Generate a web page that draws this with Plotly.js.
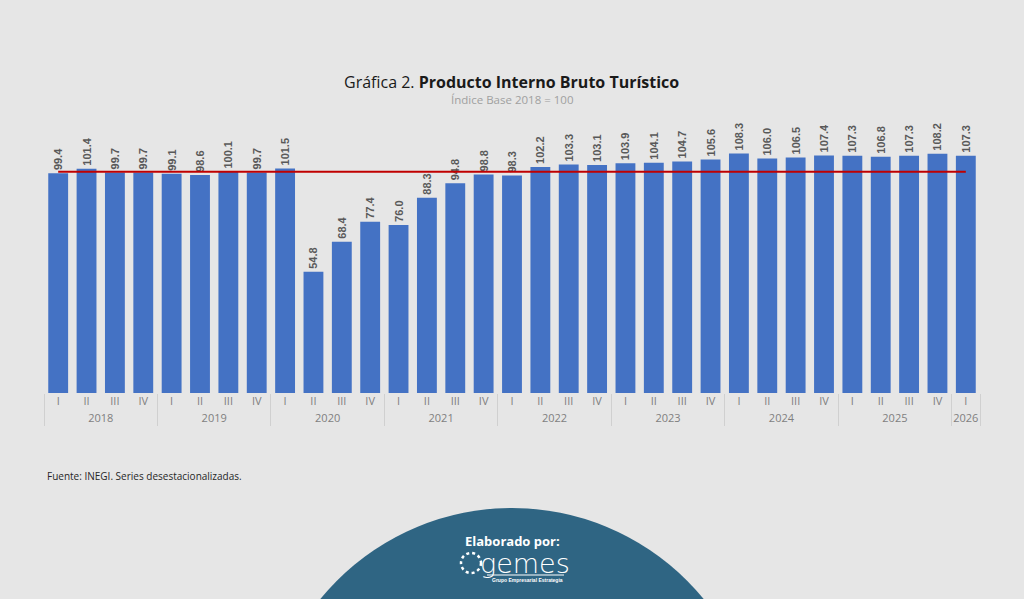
<!DOCTYPE html>
<html>
<head>
<meta charset="utf-8">
<script src="https://cdn.plot.ly/plotly-3.0.1.min.js"></script>
<style>
html,body{margin:0;padding:0;background:#e6e6e6;}
#chart{width:1024px;height:599px;}
</style>
</head>
<body>
<div id="chart"></div>
<script>
var years = ["2018","2018","2018","2018","2019","2019","2019","2019","2020","2020","2020","2020","2021","2021","2021","2021","2022","2022","2022","2022","2023","2023","2023","2023","2024","2024","2024","2024","2025","2025","2025","2025","2026"];
var quarters = ["I","II","III","IV","I","II","III","IV","I","II","III","IV","I","II","III","IV","I","II","III","IV","I","II","III","IV","I","II","III","IV","I","II","III","IV","I"];
var pibValues = [99.4,101.4,99.7,99.7,99.1,98.6,100.1,99.7,101.5,54.8,68.4,77.4,76.0,88.3,94.8,98.8,98.3,102.2,103.3,103.1,103.9,104.1,104.7,105.6,108.3,106.0,106.5,107.4,107.3,106.8,107.3,108.2,107.3];
var baseValue = 100;

var L = 44, R = 44, T = 130, B = 206;
var W = 1024, H = 599;
var pw = W - L - R, ph = H - T - B;
function px(x){ return (x - L) / pw; }
function py(y){ return (H - B - y) / ph; }

var bars = {
  type: "bar",
  x: [years, quarters],
  y: pibValues,
  marker: {color: "#4472c4"},
  text: pibValues.map(function(v){ return v.toFixed(1); }),
  textposition: "outside",
  textangle: -90,
  constraintext: "none",
  cliponaxis: false,
  textfont: {family: "Liberation Sans, Arial, sans-serif", size: 11, color: "#595959", weight: "bold"},
  hoverinfo: "y",
  showlegend: false
};
var baseLine = {
  type: "scatter",
  mode: "lines",
  x: [years, quarters],
  y: pibValues.map(function(){ return baseValue; }),
  line: {color: "#c00000", width: 2},
  hoverinfo: "skip",
  showlegend: false
};

var layout = {
  width: W, height: H,
  margin: {l: L, r: R, t: T, b: B},
  paper_bgcolor: "#e6e6e6",
  plot_bgcolor: "rgba(0,0,0,0)",
  bargap: 0.3,
  font: {family: "Open Sans, Liberation Sans, sans-serif"},
  xaxis: {
    type: "multicategory",
    showgrid: false, zeroline: false,
    showline: false,
    ticks: "",
    tickfont: {family: "Open Sans, sans-serif", size: 11, color: "#7f7f7f"},
    showdividers: true,
    dividercolor: "#d0d0d0",
    dividerwidth: 1
  },
  yaxis: {
    range: [0, ph / 2.212],
    visible: false,
    showgrid: false, zeroline: false
  },
  shapes: [
    {type: "circle", xref: "paper", yref: "paper", layer: "below",
     x0: px(264), x1: px(760), y0: py(1006), y1: py(508),
     fillcolor: "#2f6583", line: {width: 0}},
    {type: "circle", xref: "paper", yref: "paper", layer: "above",
     x0: px(461), x1: px(481), y0: py(573), y1: py(553),
     fillcolor: "rgba(0,0,0,0)", line: {color: "#ffffff", width: 2.5, dash: "dot"}},
    {type: "line", xref: "paper", yref: "paper", layer: "above",
     x0: px(487), x1: px(564), y0: py(575), y1: py(575),
     line: {color: "#ffffff", width: 1.2}}
  ],
  annotations: [
    {xref: "paper", yref: "paper", x: px(511), y: py(82), xanchor: "center", yanchor: "middle",
     showarrow: false, text: "Gráfica 2. <b>Producto Interno Bruto Turístico</b>",
     font: {family: "Open Sans, sans-serif", size: 16, color: "#1a1a1a"}},
    {xref: "paper", yref: "paper", x: px(512), y: py(99), xanchor: "center", yanchor: "middle",
     showarrow: false, text: "Índice Base 2018 = 100",
     font: {family: "Open Sans, sans-serif", size: 11.5, color: "#a0a0a0"}},
    {xref: "paper", yref: "paper", x: px(45), y: py(476), xanchor: "left", yanchor: "middle",
     showarrow: false, text: "Fuente: INEGI. Series desestacionalizadas.",
     font: {family: "Open Sans, sans-serif", size: 10, color: "#262626"}},
    {xref: "paper", yref: "paper", x: px(512), y: py(541), xanchor: "center", yanchor: "middle",
     showarrow: false, text: "<b>Elaborado por:</b>",
     font: {family: "Open Sans, sans-serif", size: 13, color: "#ffffff"}},
    {xref: "paper", yref: "paper", x: px(525), y: py(563), xanchor: "center", yanchor: "middle",
     showarrow: false, text: "gemes",
     font: {family: "DejaVu Sans, sans-serif", size: 27, color: "#ffffff", weight: 300}},
    {xref: "paper", yref: "paper", x: px(527), y: py(580), xanchor: "center", yanchor: "middle",
     showarrow: false, text: "<b>Grupo Empresarial Estrategia</b>",
     font: {family: "Liberation Sans, sans-serif", size: 5, color: "#ffffff"}}
  ]
};

Plotly.newPlot("chart", [bars, baseLine], layout, {displayModeBar: false, staticPlot: true});
</script>
</body>
</html>
